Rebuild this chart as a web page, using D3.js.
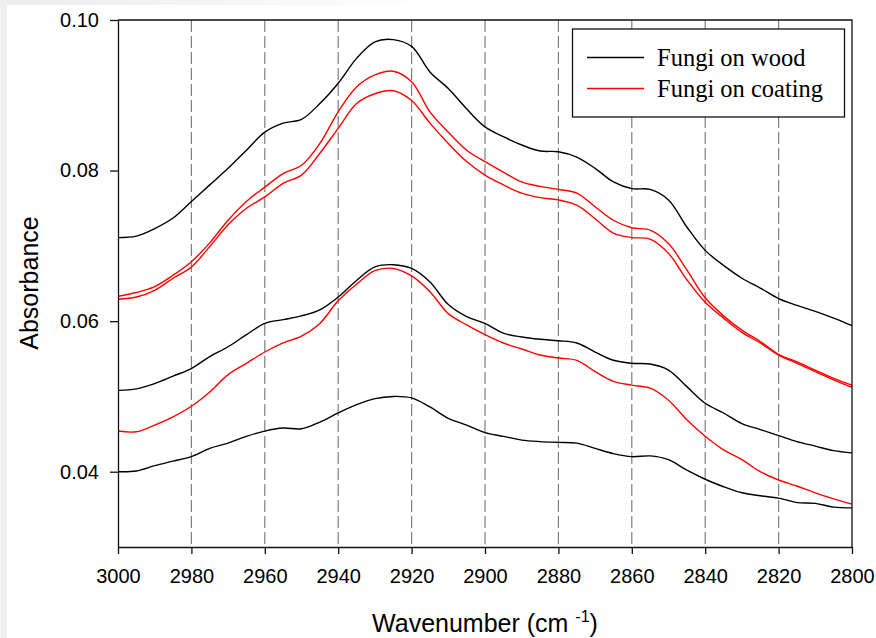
<!DOCTYPE html>
<html lang="en">
<head>
  <meta charset="UTF-8">
  <title>Absorbance spectra</title>
  <script src="https://d3js.org/d3.v7.min.js"></script>
  <style>
    body, html {
      margin: 0;
      padding: 0;
      background: #fff;
    }
    svg {
      display: block;
    }
    .tick text {
      font-family: Arial, "Liberation Sans", sans-serif;
      font-size: 20px;
      fill: #000;
    }
    .axis-title {
      font-family: Arial, "Liberation Sans", sans-serif;
      font-size: 25px;
      fill: #000;
    }
    .legend text {
      font-family: "Times New Roman", "Liberation Serif", serif;
      font-size: 24.5px;
      fill: #000;
    }
  </style>
</head>
<body>
  <svg id="chart" width="876" height="638"></svg>

  <script>
    // wavenumber (cm-1) of every reading, left to right
    const wavenumbers = [3000, 2995, 2990, 2985, 2980, 2975, 2970, 2965, 2960, 2955,
      2950, 2945, 2940, 2935, 2930, 2925, 2920, 2915, 2910, 2905,
      2900, 2895, 2890, 2885, 2880, 2875, 2870, 2865, 2860, 2855,
      2850, 2845, 2840, 2835, 2830, 2825, 2820, 2815, 2810, 2805, 2800];

    // Fungi on wood (black)
    const woodTop = [0.0711, 0.0713, 0.0723, 0.0737, 0.0759, 0.0781, 0.0803, 0.0827, 0.0851, 0.0863,
      0.0868, 0.0889, 0.0916, 0.0949, 0.0971, 0.0974, 0.0965, 0.0931, 0.0909, 0.0882,
      0.0858, 0.0845, 0.0834, 0.0826, 0.0825, 0.0818, 0.0803, 0.0785, 0.0776, 0.0775,
      0.0761, 0.0725, 0.0694, 0.0674, 0.0657, 0.0644, 0.0630, 0.0621, 0.0613, 0.0604, 0.0594];
    const woodMid = [0.0508, 0.0510, 0.0517, 0.0527, 0.0537, 0.0553, 0.0566, 0.0582, 0.0597, 0.0602,
      0.0607, 0.0615, 0.0632, 0.0654, 0.0672, 0.0675, 0.0670, 0.0652, 0.0622, 0.0606,
      0.0597, 0.0584, 0.0579, 0.0576, 0.0574, 0.0571, 0.0559, 0.0548, 0.0544, 0.0543,
      0.0535, 0.0513, 0.0491, 0.0478, 0.0464, 0.0456, 0.0448, 0.0440, 0.0434, 0.0428, 0.0425];
    const woodLow = [0.0400, 0.0401, 0.0408, 0.0414, 0.0420, 0.0431, 0.0438, 0.0447, 0.0454, 0.0458,
      0.0457, 0.0466, 0.0478, 0.0489, 0.0497, 0.0500, 0.0498, 0.0486, 0.0471, 0.0462,
      0.0452, 0.0447, 0.0442, 0.0440, 0.0439, 0.0438, 0.0431, 0.0424, 0.0420, 0.0421,
      0.0416, 0.0402, 0.0390, 0.0380, 0.0372, 0.0368, 0.0365, 0.0359, 0.0358, 0.0353, 0.0352];

    // Fungi on coating (red)
    const coatingTop = [0.0633, 0.0638, 0.0646, 0.0661, 0.0679, 0.0704, 0.0734, 0.0759, 0.0778, 0.0796,
      0.0807, 0.0836, 0.0878, 0.0911, 0.0927, 0.0932, 0.0918, 0.0878, 0.0851, 0.0827,
      0.0812, 0.0798, 0.0785, 0.0779, 0.0775, 0.0770, 0.0752, 0.0734, 0.0724, 0.0721,
      0.0703, 0.0668, 0.0631, 0.0607, 0.0588, 0.0573, 0.0556, 0.0546, 0.0535, 0.0524, 0.0515];
    const coatingMid = [0.0629, 0.0632, 0.0641, 0.0657, 0.0672, 0.0699, 0.0728, 0.0750, 0.0765, 0.0783,
      0.0794, 0.0823, 0.0856, 0.0889, 0.0902, 0.0906, 0.0893, 0.0863, 0.0836, 0.0812,
      0.0794, 0.0781, 0.0770, 0.0764, 0.0761, 0.0754, 0.0736, 0.0717, 0.0711, 0.0709,
      0.0690, 0.0655, 0.0625, 0.0604, 0.0585, 0.0571, 0.0555, 0.0544, 0.0533, 0.0522, 0.0512];
    const coatingLow = [0.0454, 0.0453, 0.0462, 0.0473, 0.0487, 0.0506, 0.0529, 0.0544, 0.0559, 0.0571,
      0.0580, 0.0597, 0.0627, 0.0649, 0.0667, 0.0670, 0.0660, 0.0639, 0.0610, 0.0595,
      0.0582, 0.0571, 0.0563, 0.0555, 0.0551, 0.0548, 0.0533, 0.0520, 0.0515, 0.0511,
      0.0495, 0.0469, 0.0447, 0.0429, 0.0416, 0.0400, 0.0389, 0.0381, 0.0372, 0.0364, 0.0357];

    const xTicks = [3000, 2980, 2960, 2940, 2920, 2900, 2880, 2860, 2840, 2820, 2800];
    const yTicks = [0.04, 0.06, 0.08, 0.10];
    const legendLabels = ["Fungi on wood", "Fungi on coating"];

    const woodColor = "#000000";
    const coatingColor = "#ff0000";

    const plotLeft = 118, plotRight = 852, plotTop = 20, plotBottom = 547;

    const svg = d3.select("#chart");

    // faint grey border of the original screenshot
    const grad = svg.append("defs").append("linearGradient")
      .attr("id", "topfade").attr("x1", "0").attr("x2", "1");
    grad.append("stop").attr("offset", "0").attr("stop-color", "#ececec");
    grad.append("stop").attr("offset", "1").attr("stop-color", "#ffffff");
    svg.append("rect").attr("x", 0).attr("y", 0).attr("width", 440).attr("height", 5).attr("fill", "url(#topfade)");
    svg.append("rect").attr("x", 0).attr("y", 0).attr("width", 7).attr("height", 638).attr("fill", "#efefef");

    const x = d3.scaleLinear().domain([3000, 2800]).range([plotLeft, plotRight]);
    const y = d3.scaleLinear().domain([0.03, 0.10]).range([plotBottom, plotTop]);

    // dashed vertical grid
    svg.append("g")
      .selectAll("line")
      .data(xTicks.slice(1, -1))
      .join("line")
      .attr("x1", d => x(d)).attr("x2", d => x(d))
      .attr("y1", plotTop).attr("y2", plotBottom)
      .attr("stroke", "#7f7f7f")
      .attr("stroke-width", 1.2)
      .attr("stroke-dasharray", "12,4");

    // spectra
    const line = d3.line()
      .x((d, i) => x(wavenumbers[i]))
      .y(d => y(d))
      .curve(d3.curveCatmullRom.alpha(0.5));

    const series = [
      { values: woodTop, color: woodColor },
      { values: woodMid, color: woodColor },
      { values: woodLow, color: woodColor },
      { values: coatingLow, color: coatingColor },
      { values: coatingMid, color: coatingColor },
      { values: coatingTop, color: coatingColor }
    ];

    svg.append("g")
      .selectAll("path")
      .data(series)
      .join("path")
      .attr("d", d => line(d.values))
      .attr("fill", "none")
      .attr("stroke", d => d.color)
      .attr("stroke-width", 1.4);

    // axes
    const yAxis = d3.axisLeft(y)
      .tickValues(yTicks)
      .tickSize(8)
      .tickSizeOuter(0)
      .tickPadding(11)
      .tickFormat(d3.format(".2f"));

    const xAxis = d3.axisBottom(x)
      .tickValues(xTicks)
      .tickSize(7)
      .tickSizeOuter(0)
      .tickPadding(14.5)
      .tickFormat(d3.format("d"));

    const gy = svg.append("g").attr("transform", `translate(${plotLeft},0)`).call(yAxis);
    const gx = svg.append("g").attr("transform", `translate(0,${plotBottom})`).call(xAxis);
    [gx, gy].forEach(g => {
      g.selectAll("path, line").attr("stroke", "#111").attr("stroke-width", 1.3);
    });

    // top and right frame
    svg.append("path")
      .attr("d", `M${plotLeft},${plotTop}H${plotRight}V${plotBottom}`)
      .attr("fill", "none")
      .attr("stroke", "#111")
      .attr("stroke-width", 1.3);

    // axis titles
    const xt = svg.append("text")
      .attr("class", "axis-title")
      .attr("x", 485)
      .attr("y", 632)
      .attr("text-anchor", "middle");
    xt.append("tspan").text("Wavenumber (cm ");
    xt.append("tspan").attr("font-size", "16px").attr("dy", -10).text("-1");
    xt.append("tspan").attr("dy", 10).text(")");

    svg.append("text")
      .attr("class", "axis-title")
      .attr("transform", "translate(38,283) rotate(-90)")
      .attr("text-anchor", "middle")
      .text("Absorbance");

    // legend
    const legend = svg.append("g").attr("class", "legend");
    legend.append("rect")
      .attr("x", 572.5).attr("y", 29)
      .attr("width", 272).attr("height", 88)
      .attr("fill", "#fff")
      .attr("stroke", "#111")
      .attr("stroke-width", 1.3);

    const items = legend.selectAll("g.item")
      .data(legendLabels)
      .join("g")
      .attr("class", "item")
      .attr("transform", (d, i) => `translate(0,${i * 31})`);

    items.append("line")
      .attr("x1", 587).attr("x2", 644)
      .attr("y1", 57.5).attr("y2", 57.5)
      .attr("stroke", (d, i) => i === 0 ? woodColor : coatingColor)
      .attr("stroke-width", 1.4);

    items.append("text")
      .attr("x", 657)
      .attr("y", 66)
      .text(d => d);
  </script>
</body>
</html>
